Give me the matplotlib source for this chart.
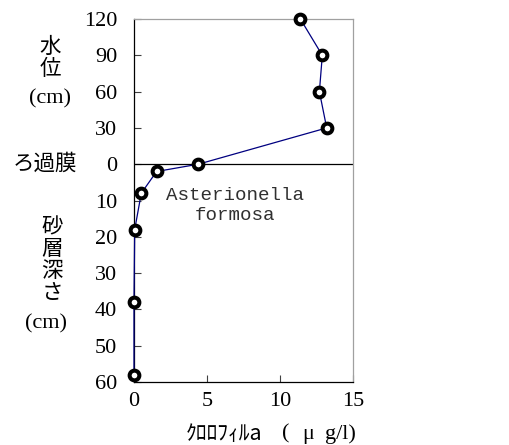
import matplotlib
matplotlib.use("Agg")
import matplotlib.pyplot as plt

# chlorophyll-a profile: water column above the filter membrane, sand bed below it
water_level_cm = [120, 90, 60, 30, 0]
chl_water = [11.4, 12.9, 12.7, 13.2, 4.4]
sand_depth_cm = [2, 8, 18, 38, 58]
chl_sand = [1.55, 0.5, 0.05, 0.0, 0.0]

ytick_labels = ['120', '90', '60', '30', '0', '10', '20', '30', '40', '50', '60']
xticks = [0, 5, 10, 15]

SERIF = ['Liberation Serif', 'DejaVu Serif']
JP = ['Noto Sans CJK JP', 'DejaVu Sans']


def to_axis(water=None, depth=None):
    # 30 cm of water per tick above the membrane, 10 cm of sand per tick below
    if water is not None:
        return -water / 30.0
    return depth / 10.0


fig = plt.figure(figsize=(5.1, 4.45), dpi=100)
ax = fig.add_axes([0.2627, 0.1416, 0.4294, 0.8156])

xs = chl_water + chl_sand
ys = [to_axis(water=w) for w in water_level_cm] + [to_axis(depth=d) for d in sand_depth_cm]
ax.plot(xs, ys, color='#000080', linewidth=0.9, marker='o', markersize=7,
        markerfacecolor='white', markeredgecolor='black', markeredgewidth=2.9,
        clip_on=False, zorder=3)

ax.axhline(0, color='black', linewidth=0.9, zorder=2)

ax.set_xlim(0, 15)
ax.set_ylim(6, -4)
ax.set_xticks(xticks)
ax.set_xticklabels([str(v) for v in xticks], family=SERIF, fontsize=16)
ax.set_yticks(range(-4, 7))
ax.set_yticklabels(ytick_labels, family=SERIF, fontsize=16)
ax.tick_params(direction='in', length=5, width=0.8, color='#404040')
ax.tick_params(axis='x', pad=7)
ax.tick_params(axis='y', pad=12)

for side in ('left', 'bottom'):
    ax.spines[side].set_color('black')
    ax.spines[side].set_linewidth(0.9)
for side in ('top', 'right'):
    ax.spines[side].set_color('#a0a0a0')
    ax.spines[side].set_linewidth(0.9)

ax.text(6.9, 1.13, 'Asterionella\nformosa', family=['Liberation Mono', 'DejaVu Sans Mono'],
        fontsize=13.8, ha='center', va='center', linespacing=1.2, color='#303030')

# left-hand axis captions
fig.text(50 / 510, 1 - 58 / 445, '水\n位', family=JP, fontsize=15.5,
         ha='center', va='center', linespacing=1.05)
fig.text(50 / 510, 1 - 99 / 445, '(cm)', family=SERIF, fontsize=16,
         ha='center', va='center')
fig.text(45 / 510, 1 - 164 / 445, 'ろ過膜', family=JP, fontsize=15.5,
         ha='center', va='center')
fig.text(52 / 510, 1 - 260 / 445, '砂\n層\n深\nさ', family=JP, fontsize=15.5,
         ha='center', va='center', linespacing=1.0)
fig.text(46 / 510, 1 - 324 / 445, '(cm)', family=SERIF, fontsize=16,
         ha='center', va='center')

# x-axis caption
fig.text(224 / 510, 1 - 434 / 445, 'ｸﾛﾛﾌｨﾙa', family=JP, fontsize=15.5,
         ha='center', va='center')
fig.text(286 / 510, 1 - 434 / 445, '(', family=SERIF, fontsize=16,
         ha='center', va='center')
fig.text(308 / 510, 1 - 434 / 445, 'μ', family=SERIF, fontsize=16,
         ha='center', va='center')
fig.text(340 / 510, 1 - 434 / 445, 'g/l)', family=SERIF, fontsize=16,
         ha='center', va='center')

fig.savefig('out.png', dpi=100)
